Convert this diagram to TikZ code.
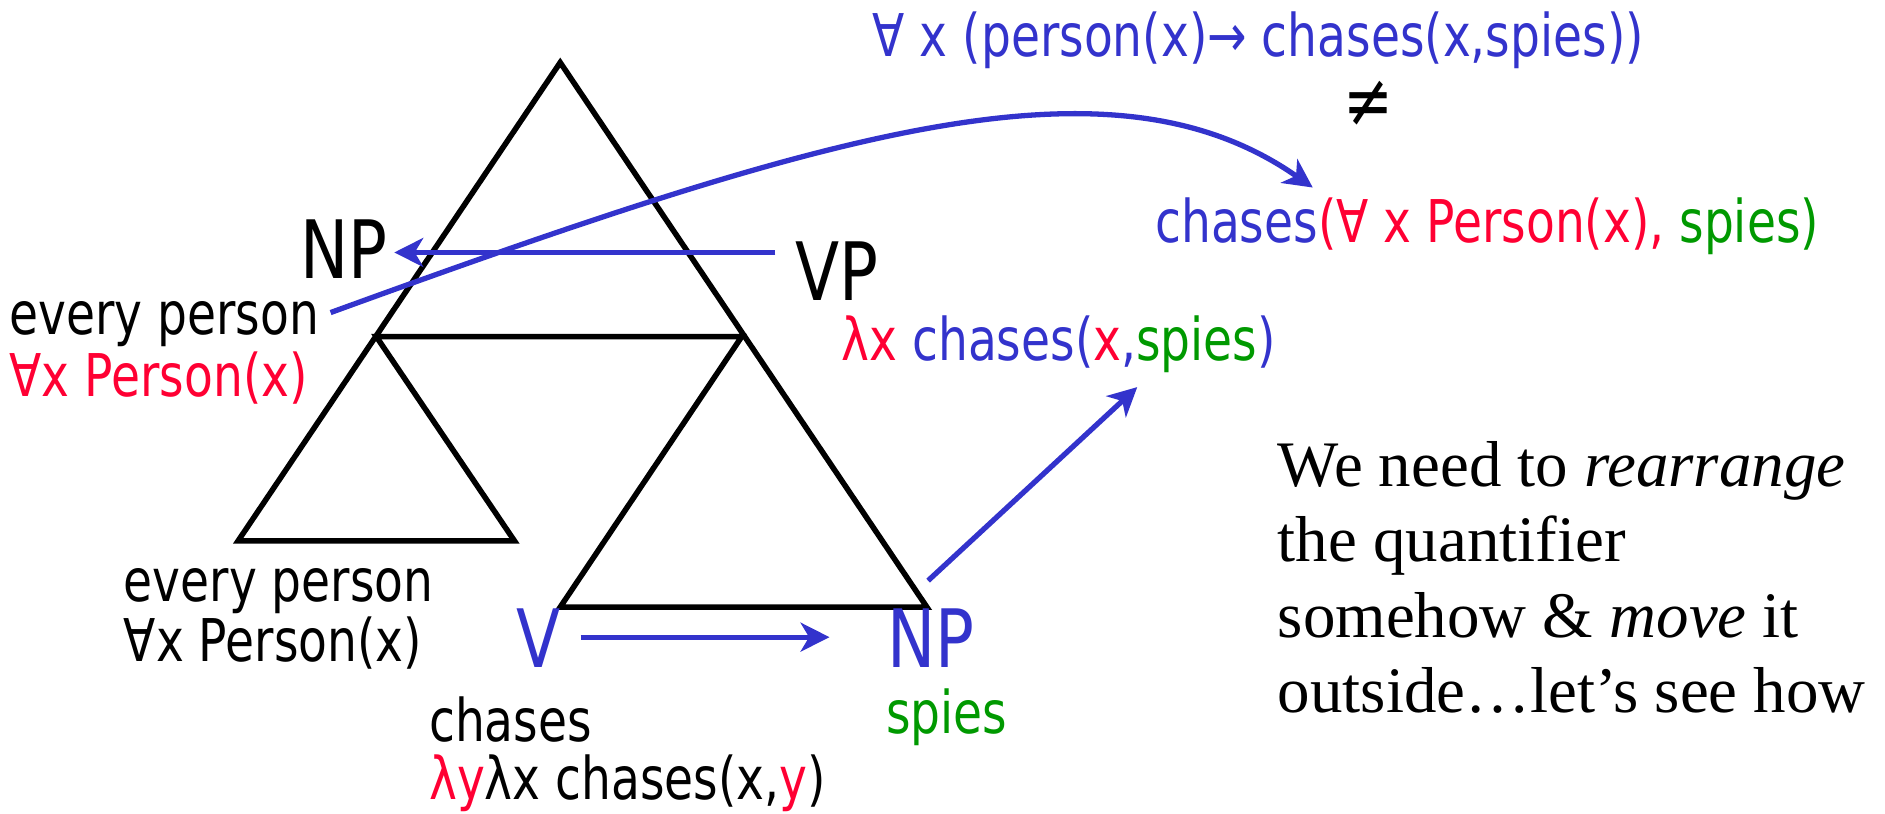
\documentclass[tikz,border=0pt]{standalone}
\usepackage{fontspec}
\usetikzlibrary{arrows.meta}
\newfontfamily\tsans[FakeStretch=0.8]{DejaVu Sans}
\newfontfamily\tserif{Liberation Serif}
\definecolor{qblue}{RGB}{51,51,204}
\definecolor{qred}{RGB}{255,0,51}
\definecolor{qgreen}{RGB}{0,153,0}
\tikzset{
  txt/.style={inner sep=0pt, outer sep=0pt, anchor=base west, font=\tsans\fontsize{49}{56}\selectfont},
  big/.style={inner sep=0pt, outer sep=0pt, anchor=base west, font=\tsans\fontsize{67}{74}\selectfont},
  para/.style={inner sep=0pt, outer sep=0pt, anchor=base west, font=\tserif\fontsize{54}{63}\selectfont},
  tri/.style={draw=black, line width=4.6pt, line join=miter},
  conn/.style={draw=qblue, line width=4.4pt, -{Stealth[length=24pt,width=24pt,inset=7pt]}},
}
\begin{document}
\begin{tikzpicture}[x=1pt,y=-1pt]
\useasboundingbox (0,0) rectangle (1568,677);
% triangles
\coordinate (apex) at (466,52);
\coordinate (jl) at (313,280);
\coordinate (jr) at (617,280);
\coordinate (bl) at (198,450);
\coordinate (br1) at (428,450);
\coordinate (bl2) at (466,505);
\coordinate (br) at (771,505);
\draw[tri] (bl) -- (apex) -- (br) -- (bl2) -- (jr) -- (jl) -- (br1) -- cycle;
% texts
\node[txt, text=qblue] (top) at (726,47) {∀ x (person(x)→ chases(x,spies))};
\node[inner sep=0pt, anchor=center, font=\tsans\fontsize{62}{66}\selectfont] (neq) at (1138,86) {≠};
\node[txt] (wrong) at (961,202) {\textcolor{qblue}{chases}\textcolor{qred}{(∀ x Person(x),} \textcolor{qgreen}{spies)}};
\node[big] (np1) at (250,232) {NP};
\node[big] (vp) at (662,250) {VP};
\node[txt] (ep1) at (8,278) {every person};
\node[txt, text=qred] (fa1) at (8,330) {∀x Person(x)};
\node[txt] (vpsem) at (700,300) {\textcolor{qred}{λx} \textcolor{qblue}{chases(}\textcolor{qred}{x}\textcolor{qblue}{,}\textcolor{qgreen}{spies}\textcolor{qblue}{)}};
\node[txt] (ep2) at (103,500) {every person};
\node[txt] (fa2) at (103,550) {∀x Person(x)};
\node[big, text=qblue] (v) at (430,555) {V};
\node[big, text=qblue] (np2) at (738,555) {NP};
\node[txt] (ch) at (357,617) {chases};
\node[txt] (chsem) at (357,665) {\textcolor{qred}{λy}λx chases(x,\textcolor{qred}{y})};
\node[txt, text=qgreen] (sp) at (737,610) {spies};
\node[para] (p1) at (1063,405) {We need to \textit{rearrange}};
\node[para] (p2) at (1063,467) {the quantifier};
\node[para] (p3) at (1063,530) {somehow \& \textit{move} it};
\node[para] (p4) at (1063,593) {outside\dots let’s see how};
% connectors
\coordinate (vpL) at (645,210);
\coordinate (npR) at (328,210);
\draw[conn] (vpL) -- (npR);
\coordinate (epR) at (275,260);
\coordinate (wrongT) at (1092,156);
\draw[conn] (epR) .. controls (698,106) and (926,40) .. (wrongT);
\coordinate (vR) at (483,530);
\coordinate (np2L) at (690,530);
\draw[conn] (vR) -- (np2L);
\coordinate (np2T) at (772,483);
\coordinate (vpsemB) at (946,322);
\draw[conn] (np2T) -- (vpsemB);
\end{tikzpicture}
\end{document}
